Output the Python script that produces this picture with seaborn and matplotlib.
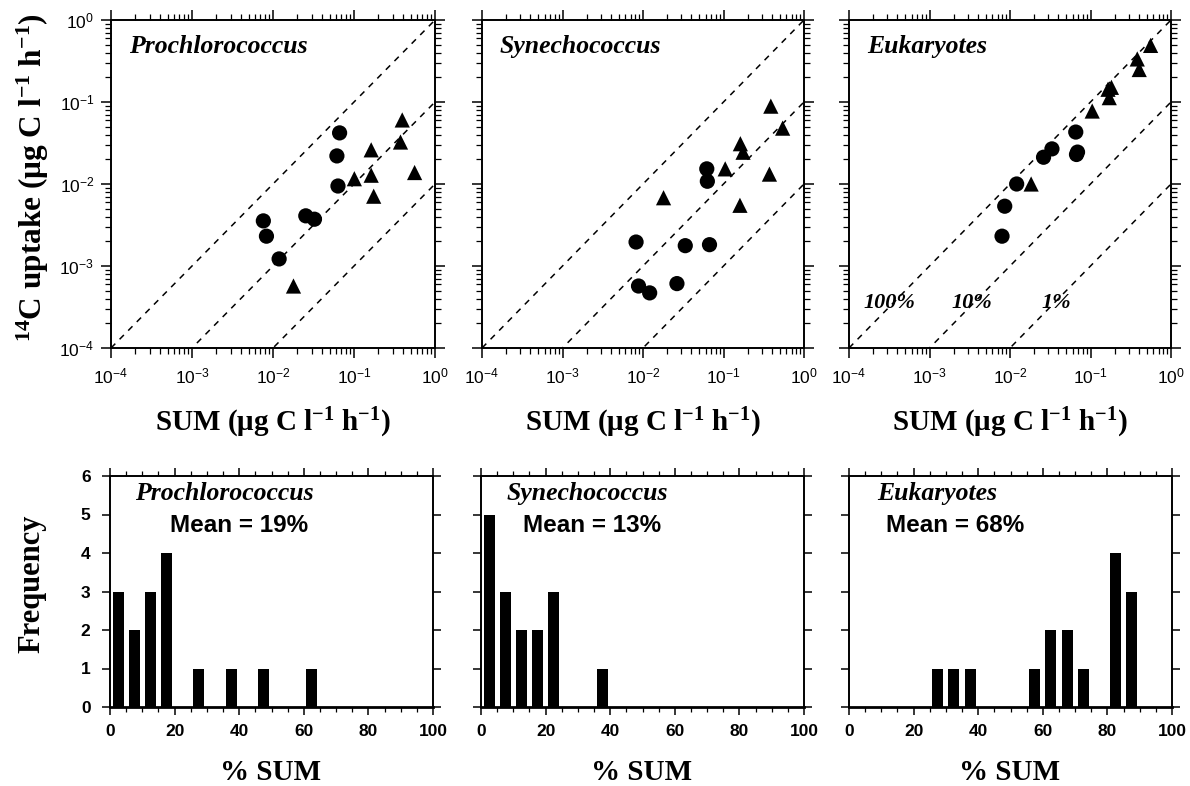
import numpy as np
import pandas as pd
import matplotlib
matplotlib.use("Agg")
import matplotlib.pyplot as plt
import seaborn as sns
from matplotlib.ticker import LogLocator, FuncFormatter, MultipleLocator, NullFormatter

# ---------------- data ----------------
panels = ["Prochlorococcus", "Synechococcus", "Eukaryotes"]
means = ["Mean = 19%", "Mean = 13%", "Mean = 68%"]

pro_circ_x = [0.0076, 0.0083, 0.0119, 0.0254, 0.0325, 0.0664, 0.0615, 0.0634]
pro_circ_y = [0.00355, 0.00231, 0.00122, 0.00409, 0.00372, 0.0420, 0.0220, 0.00945]
pro_tri_x = [0.0179, 0.101, 0.163, 0.163, 0.175, 0.394, 0.375, 0.560]
pro_tri_y = [0.00057, 0.0116, 0.0128, 0.0261, 0.0071, 0.0604, 0.0325, 0.0138]

syn_circ_x = [0.0082, 0.0088, 0.0121, 0.0264, 0.0335, 0.067, 0.062, 0.063]
syn_circ_y = [0.00196, 0.00057, 0.00047, 0.00061, 0.00177, 0.00182, 0.0153, 0.0108]
syn_tri_x = [0.018, 0.105, 0.162, 0.175, 0.160, 0.387, 0.543, 0.372]
syn_tri_y = [0.0068, 0.0153, 0.031, 0.0244, 0.0055, 0.089, 0.048, 0.0132]

euk_circ_x = [0.00796, 0.0086, 0.0121, 0.0261, 0.0332, 0.0656, 0.067, 0.069]
euk_circ_y = [0.00231, 0.00536, 0.0100, 0.0212, 0.0268, 0.043, 0.0229, 0.0245]
euk_tri_x = [0.0183, 0.105, 0.171, 0.182, 0.165, 0.381, 0.403, 0.558]
euk_tri_y = [0.0100, 0.0776, 0.113, 0.151, 0.143, 0.335, 0.249, 0.490]

hist_centers = [2.5, 7.5, 12.5, 17.5, 22.5, 27.5, 32.5, 37.5, 42.5, 47.5,
                52.5, 57.5, 62.5, 67.5, 72.5, 77.5, 82.5, 87.5, 92.5, 97.5]
pro_counts = [3, 2, 3, 4, 0, 1, 0, 1, 0, 1, 0, 0, 1, 0, 0, 0, 0, 0, 0, 0]
syn_counts = [5, 3, 2, 2, 3, 0, 0, 1, 0, 0, 0, 0, 0, 0, 0, 0, 0, 0, 0, 0]
euk_counts = [0, 0, 0, 0, 0, 1, 1, 1, 0, 0, 0, 1, 2, 2, 1, 0, 4, 3, 0, 0]

ref_ratios = [1.0, 0.1, 0.01]
ref_labels = ["100%", "10%", "1%"]

scatter_sets = [
    (pro_circ_x, pro_circ_y, pro_tri_x, pro_tri_y),
    (syn_circ_x, syn_circ_y, syn_tri_x, syn_tri_y),
    (euk_circ_x, euk_circ_y, euk_tri_x, euk_tri_y),
]
count_sets = [pro_counts, syn_counts, euk_counts]

# ---------------- style ----------------
sns.set_theme(style="ticks")
SERIF = "Liberation Serif"
SANS = "Liberation Sans"
plt.rcParams.update({
    "font.family": [SERIF, "DejaVu Serif"],
    "text.color": "black",
    "axes.labelcolor": "black",
    "mathtext.fontset": "custom",
    "mathtext.rm": "Liberation Serif:bold",
    "mathtext.bf": "Liberation Serif:bold",
    "mathtext.it": "Liberation Serif:italic:bold",
    "mathtext.sf": "Liberation Sans",
    "axes.linewidth": 1.4,
    "axes.edgecolor": "black",
    "xtick.direction": "out",
    "ytick.direction": "out",
    "xtick.top": True,
    "ytick.right": True,
    "xtick.color": "black",
    "ytick.color": "black",
    "xtick.labelcolor": "black",
    "ytick.labelcolor": "black",
})

fig = plt.figure(figsize=(11.9, 7.86), dpi=100)

top_lefts = [111, 482, 849]
top_widths = [324, 322, 322]
bot_lefts = [110, 481, 849]
W, H = 1190.0, 786.0

def log_fmt(v, pos):
    e = int(round(np.log10(v)))
    return r"$\mathsf{10^{%d}}$" % e

for i in range(3):
    cx, cy, tx, ty = scatter_sets[i]
    # ---------- top scatter panel ----------
    ax = fig.add_axes([top_lefts[i] / W, 1 - 348 / H, top_widths[i] / W, 328 / H])
    df = pd.DataFrame({
        "sum": list(cx) + list(tx),
        "uptake": list(cy) + list(ty),
        "kind": ["circle"] * len(cx) + ["triangle"] * len(tx),
    })
    ax.set_xscale("log")
    ax.set_yscale("log")
    ax.set_xlim(1e-4, 1)
    ax.set_ylim(1e-4, 1)
    line_x = np.array([1e-4, 1.0])
    for r in ref_ratios:
        ax.plot(line_x, line_x * r, color="black", lw=1.1, ls=(0, (4, 4)), zorder=1)
    sns.scatterplot(data=df, x="sum", y="uptake", style="kind",
                    markers={"circle": "o", "triangle": "^"},
                    color="black", s=120, linewidth=0, legend=False, ax=ax, zorder=3)
    ax.set_xlabel("")
    ax.set_ylabel("")
    for axis in (ax.xaxis, ax.yaxis):
        axis.set_major_locator(LogLocator(base=10, numticks=10))
        axis.set_minor_locator(LogLocator(base=10, subs=np.arange(2, 10), numticks=10))
        axis.set_minor_formatter(NullFormatter())
        axis.set_major_formatter(FuncFormatter(log_fmt))
    ax.tick_params(which="major", length=7, width=1.1, labelsize=12.5, pad=7)
    ax.tick_params(which="minor", length=4, width=0.9)
    ax.tick_params(axis="y", pad=5)
    if i > 0:
        ax.tick_params(axis="y", labelleft=False)
    ax.text(0.055, 0.918, panels[i], transform=ax.transAxes, fontsize=18.5,
            fontstyle="italic", fontweight="bold", family=SERIF, va="center", ha="left")
    if i == 2:
        for r, lab, lx in zip(ref_ratios, ref_labels, [1.5e-4, 1.89e-3, 2.48e-2]):
            ax.text(lx, 3.5e-4, lab, fontsize=16, fontstyle="italic",
                    fontweight="bold", family=SERIF, va="center", ha="left")
    fig.text((top_lefts[i] + top_widths[i] / 2) / W, 1 - 423 / H,
             r"SUM (μg C l$^{\mathbf{-1}}$ h$^{\mathbf{-1}}$)",
             fontsize=21, fontweight="bold", family=SERIF, ha="center", va="center")

    # ---------- bottom histogram panel ----------
    bx = fig.add_axes([bot_lefts[i] / W, 1 - 707 / H, 323 / W, 231 / H])
    hdf = pd.DataFrame({"pct": hist_centers, "n": count_sets[i]})
    sns.histplot(data=hdf, x="pct", weights="n", binwidth=5, binrange=(0, 100),
                 shrink=0.68, color="black", edgecolor="black", linewidth=0,
                 alpha=1, ax=bx)
    bx.set_xlim(0, 100)
    bx.set_ylim(0, 6)
    bx.set_xlabel("")
    bx.set_ylabel("")
    bx.xaxis.set_major_locator(MultipleLocator(20))
    bx.xaxis.set_minor_locator(MultipleLocator(5))
    bx.yaxis.set_major_locator(MultipleLocator(1))
    bx.tick_params(which="major", length=6, width=1.1, labelsize=12.5, pad=6)
    bx.tick_params(which="minor", length=3.5, width=0.9)
    bx.tick_params(axis="y", pad=8)
    for lab in bx.get_xticklabels() + bx.get_yticklabels():
        lab.set_family(SANS)
        lab.set_fontweight("bold")
    if i > 0:
        bx.tick_params(axis="y", labelleft=False)
    bx.spines["bottom"].set_linewidth(2.0)
    bx.text([0.077, 0.08, 0.086][i], 0.925, panels[i], transform=bx.transAxes,
            fontsize=18.5, fontstyle="italic", fontweight="bold", family=SERIF,
            va="center", ha="left")
    bx.text([0.185, 0.13, 0.115][i], 0.785, means[i], transform=bx.transAxes,
            fontsize=17.5, fontweight="bold", family=SANS, va="center", ha="left")
    fig.text((bot_lefts[i] + 161) / W, 1 - 772 / H, "% SUM",
             fontsize=21, fontweight="bold", family=SERIF, ha="center", va="center")

fig.text(33 / W, 1 - 178 / H,
         r"$^{\mathbf{14}}$C uptake (μg C l$^{\mathbf{-1}}$ h$^{\mathbf{-1}}$)",
         fontsize=22.5, fontweight="bold", family=SERIF, rotation=90,
         ha="center", va="center")
fig.text(32 / W, 1 - 584 / H, "Frequency", fontsize=22, fontweight="bold",
         family=SERIF, rotation=90, ha="center", va="center")

fig.savefig("out.png", dpi=100)
